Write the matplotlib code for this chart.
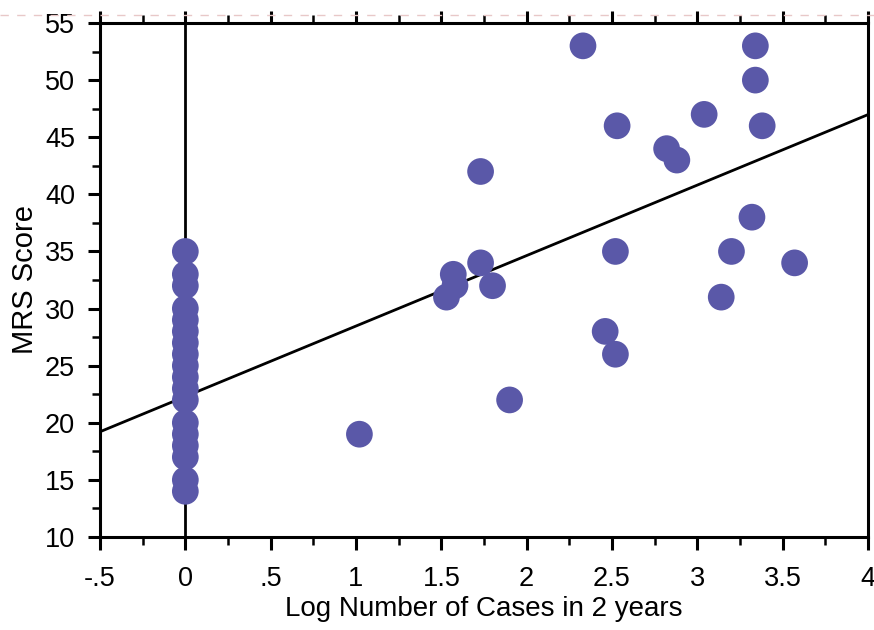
import matplotlib
matplotlib.use("Agg")
import matplotlib.pyplot as plt
from matplotlib.ticker import MultipleLocator, FixedFormatter, FixedLocator
import numpy as np

plt.rcParams['font.family'] = ['Liberation Sans', 'DejaVu Sans']

# Data
zero_y = [35, 33, 32, 30, 29, 28, 27, 26, 25, 24, 23, 22, 20, 19, 18, 17, 15, 14]
pos_x = [2.33, 3.34, 3.34, 3.38, 2.53, 3.04, 2.82, 2.88, 1.73, 3.32, 3.20, 2.52,
         3.57, 1.73, 1.57, 1.58, 1.53, 1.80, 3.14, 2.46, 2.52, 1.90, 1.02]
pos_y = [53, 53, 50, 46, 46, 47, 44, 43, 42, 38, 35, 35,
         34, 34, 33, 32, 31, 32, 31, 28, 26, 22, 19]
fit_intercept = 22.3
fit_slope = 6.17

xticks = [-0.5, 0, 0.5, 1, 1.5, 2, 2.5, 3, 3.5, 4]
xticklabels = ['-.5', '0', '.5', '1', '1.5', '2', '2.5', '3', '3.5', '4']
yticks = [10, 15, 20, 25, 30, 35, 40, 45, 50, 55]

fig = plt.figure(figsize=(8.74, 6.30), dpi=100)
ax = fig.add_axes([100/874, 93/630, 768/874, 514/630])
ax.set_xlim(-0.5, 4)
ax.set_ylim(10, 55)

color = '#5a58a8'
xs = [0]*len(zero_y) + pos_x
ys = zero_y + pos_y
ax.scatter(xs, ys, s=370, color=color, edgecolors='none', zorder=3, clip_on=False)

# vertical line at 0
ax.axvline(0, color='black', lw=2, zorder=2)
# regression line
lx = np.array([-0.5, 4])
ax.plot(lx, fit_intercept + fit_slope*lx, color='black', lw=2, zorder=2)

for s in ax.spines.values():
    s.set_linewidth(2.2)
    s.set_color('black')

ax.xaxis.set_major_locator(FixedLocator(xticks))
ax.xaxis.set_major_formatter(FixedFormatter(xticklabels))
ax.xaxis.set_minor_locator(MultipleLocator(0.25))
ax.yaxis.set_major_locator(FixedLocator(yticks))
ax.yaxis.set_minor_locator(MultipleLocator(2.5))
ax.tick_params(axis='both', which='major', direction='out', length=9, width=2.2,
               labelsize=19.5)
ax.tick_params(axis='x', which='major', pad=12)
ax.tick_params(axis='y', which='major', pad=9)
ax.tick_params(axis='both', which='minor', direction='out', length=5.5, width=1.8)
ax.tick_params(axis='x', top=True, which='both')
ax.tick_params(axis='y', right=False, which='both')

ax.set_xlabel('Log Number of Cases in 2 years', fontsize=20, labelpad=3)
ax.set_ylabel('MRS Score', fontsize=21, labelpad=4)

# faint dashed line above the plot
fig.add_artist(plt.Line2D([0, 1], [1 - 15/630, 1 - 15/630], transform=fig.transFigure,
                          color='#e8c8c8', lw=1, ls=(0, (6, 6))))

fig.savefig('out.png', dpi=100)
